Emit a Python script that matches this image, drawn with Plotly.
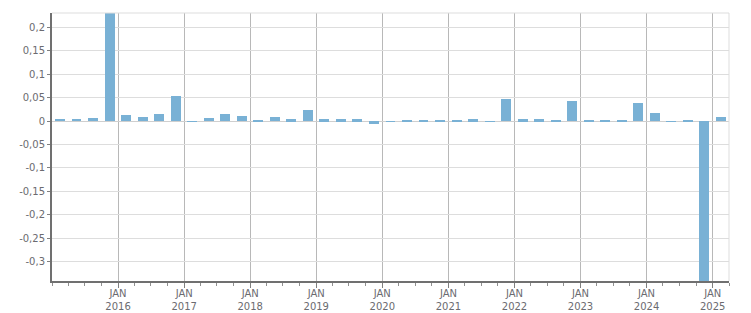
import plotly.graph_objects as go

quarters = [f"{y}-{m:02d}-01" for y in range(2015, 2026) for m in (1, 4, 7, 10)][:41]
values = [
    0.005, 0.005, 0.007, 0.23,
    0.013, 0.009, 0.015, 0.053,
    -0.0015, 0.007, 0.015, 0.011,
    0.002, 0.009, 0.004, 0.0235,
    0.004, 0.004, 0.004, -0.006,
    -0.0015, 0.002, 0.002, 0.002,
    0.002, 0.004, -0.0015, 0.047,
    0.004, 0.004, 0.002, 0.043,
    0.002, 0.002, 0.002, 0.038,
    0.017, -0.001, 0.002, -0.34,
    0.0085,
]
x_tick_vals = [f"{y}-01-01" for y in range(2016, 2026)]
x_tick_text = [f"JAN<br>{y}" for y in range(2016, 2026)]
y_tick_vals = [0.2, 0.15, 0.1, 0.05, 0, -0.05, -0.1, -0.15, -0.2, -0.25, -0.3]
y_tick_text = ["0,2", "0,15", "0,1", "0,05", "0", "-0,05", "-0,1", "-0,15", "-0,2", "-0,25", "-0,3"]

fig = go.Figure()
fig.add_trace(go.Bar(
    x=quarters, y=values,
    xperiod="M3", xperiodalignment="middle",
    width=55 * 86400000,
    marker=dict(color="#79b1d5", line=dict(width=0)),
))

font = dict(family="'DejaVu Sans', Tahoma, Verdana, sans-serif", size=10, color="#6b6b70")
fig.update_layout(
    width=751, height=313,
    margin=dict(l=52, r=22, t=13, b=32),
    paper_bgcolor="white", plot_bgcolor="white",
    showlegend=False, bargap=0,
    font=font,
    xaxis=dict(
        type="date", automargin=False,
        range=["2015-01-01", "2025-04-01"],
        tickvals=x_tick_vals, ticktext=x_tick_text,
        showgrid=True, gridcolor="#b8b8b8", gridwidth=1,
        ticks="outside", ticklen=5, tickcolor="#808080", tickwidth=1,
        ticklabelstandoff=-3,
        showline=True, linecolor="#707070", linewidth=2,
        minor=dict(dtick="M3", tick0="2015-01-01", ticks="outside", ticklen=3,
                   tickcolor="#909090", showgrid=False),
        tickfont=font,
        zeroline=False,
    ),
    yaxis=dict(
        automargin=False,
        range=[-0.341, 0.2305],
        tickvals=y_tick_vals, ticktext=y_tick_text,
        showgrid=True, gridcolor="#dddddd", gridwidth=1,
        zeroline=True, zerolinecolor="#cfcfcf", zerolinewidth=1,
        ticks="outside", ticklen=3, tickcolor="#808080",
        showline=True, linecolor="#707070", linewidth=2,
        tickfont=font,
    ),
    shapes=[
        dict(type="line", xref="paper", yref="paper", x0=0, x1=1, y0=1, y1=1,
             line=dict(color="#dddddd", width=1)),
        dict(type="line", xref="paper", yref="paper", x0=1, x1=1, y0=0, y1=1,
             line=dict(color="#dddddd", width=1)),
    ],
)

fig.write_html("out.html")
